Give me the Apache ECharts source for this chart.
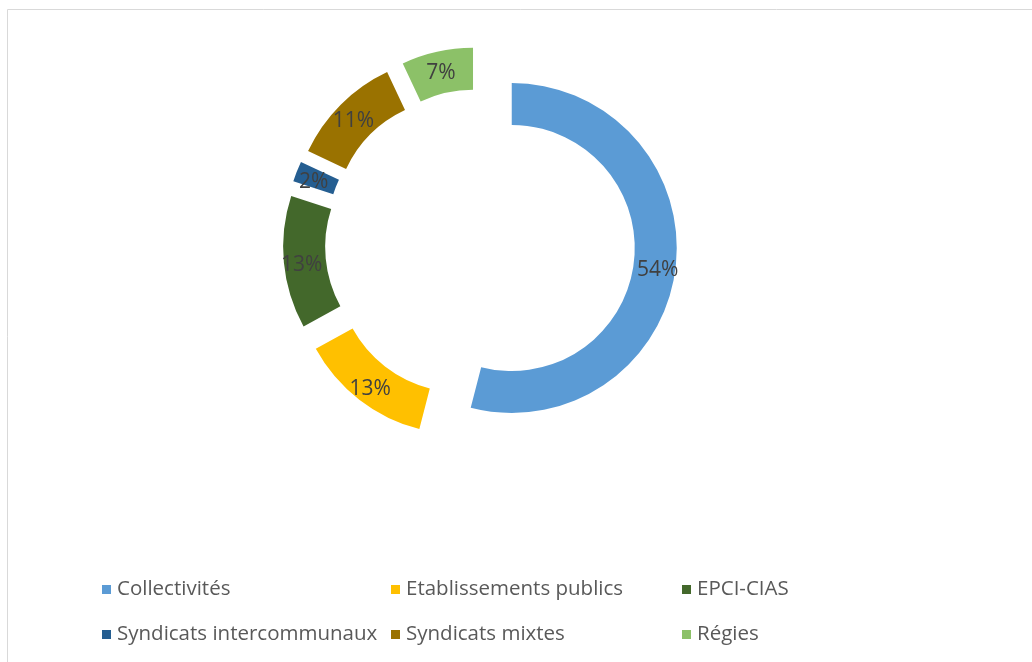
<!DOCTYPE html>
<html>
<head>
<meta charset="utf-8">
<script src="https://cdn.jsdelivr.net/npm/echarts@6/dist/echarts.min.js"></script>
<style>
html,body{margin:0;padding:0;background:#fff;}
#chart{width:1032px;height:662px;}
</style>
</head>
<body>
<div id="chart"></div>
<script>
const categories = ['Collectivités', 'Etablissements publics', 'EPCI-CIAS', 'Syndicats intercommunaux', 'Syndicats mixtes', 'Régies'];
const values = [54, 13, 13, 2, 11, 7];
const colors = ['#5B9BD5', '#FFC000', '#43682B', '#255E91', '#9A7200', '#8CC168'];

const FONT = 'Open Sans';
const legendPos = [
  [102, 579], [391, 579], [682, 579],
  [102, 624], [391, 624], [682, 624]
];

const legends = categories.map((name, i) => ({
  data: [{ name: name, icon: 'path://M0,0 h9 v9 h-9 z' }],
  left: legendPos[i][0], top: legendPos[i][1],
  padding: 0,
  itemWidth: 11, itemHeight: 9,
  selectedMode: false,
  textStyle: { fontFamily: FONT, fontSize: 20.5, color: '#595959' }
}));

const chart = echarts.init(document.getElementById('chart'), null, { renderer: 'canvas' });
chart.setOption({
  animation: false,
  color: colors,
  graphic: [{
    type: 'rect', shape: { x: 7.5, y: 9.5, width: 1100, height: 800 },
    style: { fill: 'none', stroke: '#D9D9D9', lineWidth: 1 }, silent: true
  }],
  legend: legends,
  series: [{
    type: 'pie',
    center: [480, 244],
    radius: [123, 165],
    startAngle: 90,
    clockwise: true,
    selectedMode: 'multiple',
    selectedOffset: 32,
    avoidLabelOverlap: false,
    label: {
      show: true, position: 'inside', formatter: '{c}%',
      fontFamily: FONT, fontSize: 21, color: '#404040'
    },
    labelLayout: { dy: 4 },
    labelLine: { show: false },
    emphasis: { disabled: true },
    data: categories.map((name, i) => ({ name: name, value: values[i], selected: true }))
  }]
});
</script>
</body>
</html>
